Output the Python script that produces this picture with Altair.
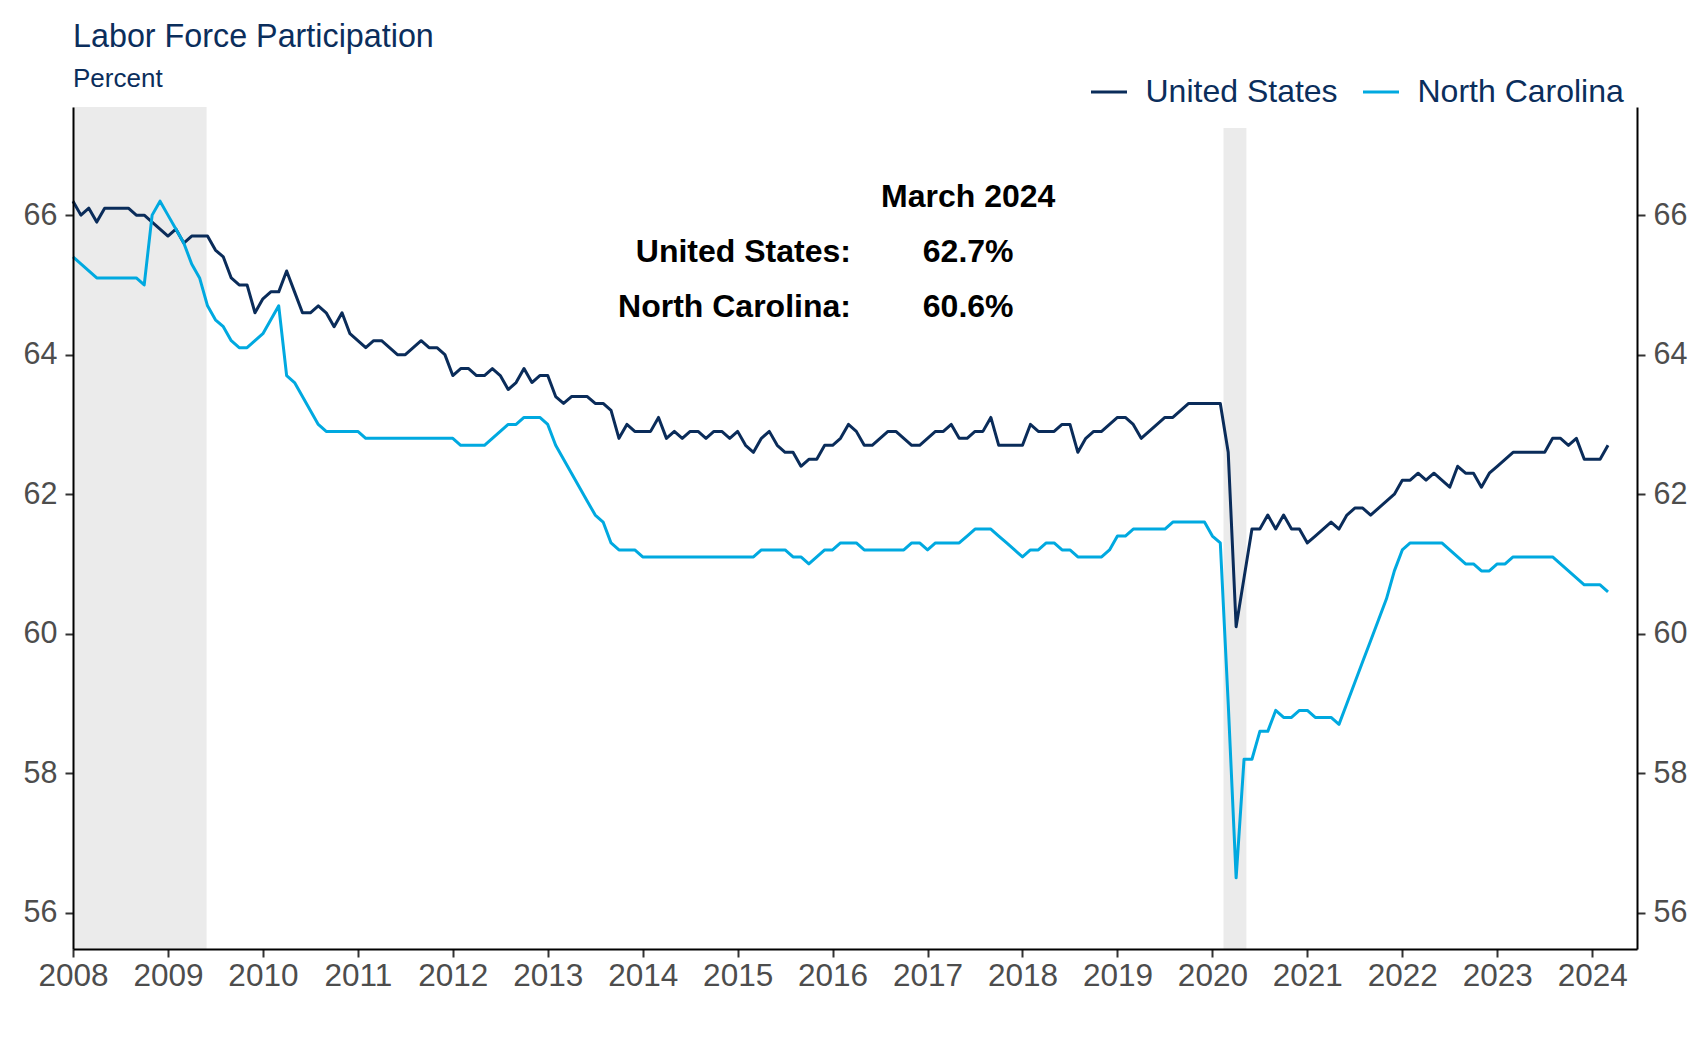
import altair as alt
import pandas as pd

FONT = "Liberation Sans"
NAVY = "#0b2e5c"
US_COLOR = "#0a2c5a"
NC_COLOR = "#00a9e0"

series_names = ["United States", "North Carolina"]
start_year = 2008

# Monthly labor force participation rate, Jan 2008 - Mar 2024
us_values = [
    66.2, 66.0, 66.1, 65.9, 66.1, 66.1, 66.1, 66.1, 66.0, 66.0, 65.9, 65.8,  # 2008
    65.7, 65.8, 65.6, 65.7, 65.7, 65.7, 65.5, 65.4, 65.1, 65.0, 65.0, 64.6,  # 2009
    64.8, 64.9, 64.9, 65.2, 64.9, 64.6, 64.6, 64.7, 64.6, 64.4, 64.6, 64.3,  # 2010
    64.2, 64.1, 64.2, 64.2, 64.1, 64.0, 64.0, 64.1, 64.2, 64.1, 64.1, 64.0,  # 2011
    63.7, 63.8, 63.8, 63.7, 63.7, 63.8, 63.7, 63.5, 63.6, 63.8, 63.6, 63.7,  # 2012
    63.7, 63.4, 63.3, 63.4, 63.4, 63.4, 63.3, 63.3, 63.2, 62.8, 63.0, 62.9,  # 2013
    62.9, 62.9, 63.1, 62.8, 62.9, 62.8, 62.9, 62.9, 62.8, 62.9, 62.9, 62.8,  # 2014
    62.9, 62.7, 62.6, 62.8, 62.9, 62.7, 62.6, 62.6, 62.4, 62.5, 62.5, 62.7,  # 2015
    62.7, 62.8, 63.0, 62.9, 62.7, 62.7, 62.8, 62.9, 62.9, 62.8, 62.7, 62.7,  # 2016
    62.8, 62.9, 62.9, 63.0, 62.8, 62.8, 62.9, 62.9, 63.1, 62.7, 62.7, 62.7,  # 2017
    62.7, 63.0, 62.9, 62.9, 62.9, 63.0, 63.0, 62.6, 62.8, 62.9, 62.9, 63.0,  # 2018
    63.1, 63.1, 63.0, 62.8, 62.9, 63.0, 63.1, 63.1, 63.2, 63.3, 63.3, 63.3,  # 2019
    63.3, 63.3, 62.6, 60.1, 60.8, 61.5, 61.5, 61.7, 61.5, 61.7, 61.5, 61.5,  # 2020
    61.3, 61.4, 61.5, 61.6, 61.5, 61.7, 61.8, 61.8, 61.7, 61.8, 61.9, 62.0,  # 2021
    62.2, 62.2, 62.3, 62.2, 62.3, 62.2, 62.1, 62.4, 62.3, 62.3, 62.1, 62.3,  # 2022
    62.4, 62.5, 62.6, 62.6, 62.6, 62.6, 62.6, 62.8, 62.8, 62.7, 62.8, 62.5,  # 2023
    62.5, 62.5, 62.7,                                                        # 2024
]

nc_values = [
    65.4, 65.3, 65.2, 65.1, 65.1, 65.1, 65.1, 65.1, 65.1, 65.0, 66.0, 66.2,  # 2008
    66.0, 65.8, 65.6, 65.3, 65.1, 64.7, 64.5, 64.4, 64.2, 64.1, 64.1, 64.2,  # 2009
    64.3, 64.5, 64.7, 63.7, 63.6, 63.4, 63.2, 63.0, 62.9, 62.9, 62.9, 62.9,  # 2010
    62.9, 62.8, 62.8, 62.8, 62.8, 62.8, 62.8, 62.8, 62.8, 62.8, 62.8, 62.8,  # 2011
    62.8, 62.7, 62.7, 62.7, 62.7, 62.8, 62.9, 63.0, 63.0, 63.1, 63.1, 63.1,  # 2012
    63.0, 62.7, 62.5, 62.3, 62.1, 61.9, 61.7, 61.6, 61.3, 61.2, 61.2, 61.2,  # 2013
    61.1, 61.1, 61.1, 61.1, 61.1, 61.1, 61.1, 61.1, 61.1, 61.1, 61.1, 61.1,  # 2014
    61.1, 61.1, 61.1, 61.2, 61.2, 61.2, 61.2, 61.1, 61.1, 61.0, 61.1, 61.2,  # 2015
    61.2, 61.3, 61.3, 61.3, 61.2, 61.2, 61.2, 61.2, 61.2, 61.2, 61.3, 61.3,  # 2016
    61.2, 61.3, 61.3, 61.3, 61.3, 61.4, 61.5, 61.5, 61.5, 61.4, 61.3, 61.2,  # 2017
    61.1, 61.2, 61.2, 61.3, 61.3, 61.2, 61.2, 61.1, 61.1, 61.1, 61.1, 61.2,  # 2018
    61.4, 61.4, 61.5, 61.5, 61.5, 61.5, 61.5, 61.6, 61.6, 61.6, 61.6, 61.6,  # 2019
    61.4, 61.3, 59.0, 56.5, 58.2, 58.2, 58.6, 58.6, 58.9, 58.8, 58.8, 58.9,  # 2020
    58.9, 58.8, 58.8, 58.8, 58.7, 59.0, 59.3, 59.6, 59.9, 60.2, 60.5, 60.9,  # 2021
    61.2, 61.3, 61.3, 61.3, 61.3, 61.3, 61.2, 61.1, 61.0, 61.0, 60.9, 60.9,  # 2022
    61.0, 61.0, 61.1, 61.1, 61.1, 61.1, 61.1, 61.1, 61.0, 60.9, 60.8, 60.7,  # 2023
    60.7, 60.7, 60.6,                                                        # 2024
]

# Recession shading (decimal years) and vertical extent
rec_start = [2008.0, 2020.117]
rec_end = [2009.407, 2020.358]
rec_top = [67.55, 67.25]
rec_bottom = [55.48, 55.48]

# Annotation
ann_header = "March 2024"
ann_labels = ["United States:", "North Carolina:"]
ann_values = ["62.7%", "60.6%"]

x_ticks = list(range(2008, 2025))
y_ticks = [56, 58, 60, 62, 64, 66]
x_domain = [2008.0, 2024.472]
y_domain = [55.48, 67.55]

n = len(us_values)
t = [start_year + i / 12 for i in range(n)]
df = pd.DataFrame({
    "t": t + t,
    "value": us_values + nc_values,
    "series": [series_names[0]] * n + [series_names[1]] * n,
})
rec_df = pd.DataFrame({"start": rec_start, "end": rec_end, "top": rec_top, "bottom": rec_bottom})

label_x = 2016.193
value_x = 2017.428
left_df = pd.DataFrame({"text": ann_labels, "x": [label_x, label_x], "y": [65.33, 64.54]})
center_df = pd.DataFrame({"text": [ann_header] + ann_values,
                          "x": [value_x] * 3, "y": [66.11, 65.33, 64.54]})

xscale = alt.Scale(domain=x_domain, nice=False, zero=False)
yscale = alt.Scale(domain=y_domain, nice=False, zero=False)

axis_common = dict(
    labelFont=FONT, labelColor="#4d4d4d", tickColor="#333333", tickSize=8, tickWidth=2,
    domainColor="black", domainWidth=2, grid=False, title=None, zindex=1,
)
xaxis = alt.Axis(values=x_ticks, format="d", labelFontSize=31.5, labelPadding=3,
                 labelFlush=False, **axis_common)
yaxis_left = alt.Axis(values=y_ticks, format="d", orient="left", labelFontSize=30.5,
                      labelPadding=8, **axis_common)
yaxis_right = alt.Axis(values=y_ticks, format="d", orient="right", labelFontSize=30.5,
                       labelPadding=8, **axis_common)

rec = alt.Chart(rec_df).mark_rect(color="#ebebeb").encode(
    x=alt.X("start:Q", scale=xscale, axis=xaxis),
    x2="end:Q",
    y=alt.Y("top:Q", scale=yscale, axis=yaxis_left),
    y2="bottom:Q",
)

lines = alt.Chart(df).mark_line(strokeWidth=3, strokeJoin="round").encode(
    x=alt.X("t:Q", scale=xscale, axis=xaxis),
    y=alt.Y("value:Q", scale=yscale, axis=yaxis_right),
    color=alt.Color(
        "series:N",
        scale=alt.Scale(domain=series_names, range=[US_COLOR, NC_COLOR]),
        sort=series_names,
        legend=alt.Legend(
            orient="none", legendX=1016.5, legendY=-34.7, direction="horizontal",
            title=None, symbolType="stroke", symbolStrokeWidth=3, symbolSize=1296,
            labelFont=FONT, labelFontSize=32, labelColor=NAVY, labelOffset=17,
            columnPadding=18, labelLimit=400, padding=0,
        ),
    ),
)

text_right = alt.Chart(left_df).mark_text(
    align="right", baseline="alphabetic", font=FONT, fontSize=32, fontWeight="bold", color="black"
).encode(
    x=alt.X("x:Q", scale=xscale, axis=xaxis),
    y=alt.Y("y:Q", scale=yscale, axis=None),
    text="text:N",
)
text_center = alt.Chart(center_df).mark_text(
    align="center", baseline="alphabetic", font=FONT, fontSize=32, fontWeight="bold", color="black"
).encode(
    x=alt.X("x:Q", scale=xscale, axis=xaxis),
    y=alt.Y("y:Q", scale=yscale, axis=None),
    text="text:N",
)

chart = alt.layer(rec, lines, text_right, text_center).resolve_axis(
    y="independent"
).properties(
    width=1564,
    height=842,
    background="white",
    padding={"left": 15, "top": 13, "right": 5, "bottom": 5},
    title=alt.TitleParams(
        text="Labor Force Participation",
        subtitle="Percent",
        anchor="start",
        frame="group",
        font=FONT,
        fontSize=32.3,
        fontWeight="normal",
        color=NAVY,
        subtitleFont=FONT,
        subtitleFontSize=26,
        subtitleColor=NAVY,
        subtitlePadding=13,
        offset=-20,
    ),
).configure_view(strokeWidth=0, stroke=None)

chart.save("out.html", embed_options={"renderer": "svg", "actions": False})
